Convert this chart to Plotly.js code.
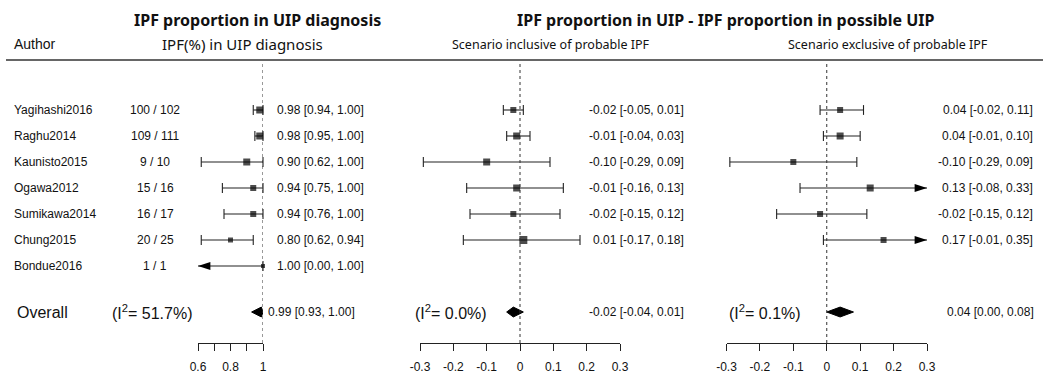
<!DOCTYPE html>
<html>
<head>
<meta charset="utf-8">
<script src="https://cdn.plot.ly/plotly-3.0.1.min.js"></script>
<style>html,body{margin:0;padding:0;background:#fff;}#chart{width:1043px;height:374px;}</style>
</head>
<body>
<div id="chart"></div>
<script>
// ---------------- DATA ----------------
const authors = ['Yagihashi2016','Raghu2014','Kaunisto2015','Ogawa2012','Sumikawa2014','Chung2015','Bondue2016'];
const events  = [100, 109, 9, 15, 16, 20, 1];
const totals  = [102, 111, 10, 16, 17, 25, 1];

// Panel 1: IPF proportion in UIP diagnosis
const p1Est = [0.98, 0.98, 0.90, 0.94, 0.94, 0.80, 1.00];
const p1Lo  = [0.94, 0.95, 0.62, 0.75, 0.76, 0.62, 0.00];
const p1Hi  = [1.00, 1.00, 1.00, 1.00, 1.00, 0.94, 1.00];
const p1Overall = [0.99, 0.93, 1.00];
const p1I2 = '51.7%';

// Panel 2: scenario inclusive of probable IPF
const p2Est = [-0.02, -0.01, -0.10, -0.01, -0.02, 0.01, null];
const p2Lo  = [-0.05, -0.04, -0.29, -0.16, -0.15, -0.17, null];
const p2Hi  = [ 0.01,  0.03,  0.09,  0.13,  0.12,  0.18, null];
const p2Overall = [-0.02, -0.04, 0.01];
const p2I2 = '0.0%';

// Panel 3: scenario exclusive of probable IPF
const p3Est = [ 0.04,  0.04, -0.10,  0.13, -0.02,  0.17, null];
const p3Lo  = [-0.02, -0.01, -0.29, -0.08, -0.15, -0.01, null];
const p3Hi  = [ 0.11,  0.10,  0.09,  0.33,  0.12,  0.35, null];
const p3Overall = [0.04, 0.00, 0.08];
const p3I2 = '0.1%';

const p1Ticks = [0.6, 0.8, 1.0];
const p1TickText = ['0.6', '0.8', '1'];
const diffTicks = [-0.3, -0.2, -0.1, 0, 0.1, 0.2, 0.3];
const diffTickText = ['-0.3', '-0.2', '-0.1', '0', '0.1', '0.2', '0.3'];

// ---------------- STYLE / LAYOUT ----------------
const W = 1043, H = 374;
const px = v => v / W;
const py = v => (H - v) / H;
const INK = '#111';
const LINE = '#222';
const ARIAL = 'Liberation Sans, Arial, sans-serif';
const TITLEF = 'Noto Sans, Open Sans, sans-serif';
const sq1 = [7, 7, 7, 6, 6, 5, 4];
const sq2 = [6, 7, 7, 7, 6, 8];
const sq3 = [6, 7, 6, 7, 6, 6];

const rows = authors.map((a, i) => i + 1);
const overallRow = 8.77;

const f2 = v => v.toFixed(2);
const ci = (e, l, h) => f2(e) + ' [' + f2(l) + ', ' + f2(h) + ']';

const traces = [];
const annotations = [];
const shapes = [];

function panel(xa, est, lo, hi, range, sizes, overall, refX) {
  const wx = [], wy = [], cx = [], cy = [], sx = [], sy = [], ss = [];
  const ax = [], ay = [], aa = [];
  est.forEach((e, i) => {
    if (e === null) return;
    const y = rows[i];
    const l = Math.max(lo[i], range[0]);
    const h = Math.min(hi[i], range[1]);
    wx.push(l, h, null); wy.push(y, y, null);
    if (lo[i] >= range[0]) { cx.push(lo[i]); cy.push(y); }
    else { ax.push(range[0]); ay.push(y); aa.push(-90); }
    if (hi[i] <= range[1]) { cx.push(hi[i]); cy.push(y); }
    else { ax.push(range[1]); ay.push(y); aa.push(90); }
    sx.push(e); sy.push(y); ss.push(sizes[i]);
  });
  traces.push({x: wx, y: wy, xaxis: xa, yaxis: 'y', mode: 'lines', line: {color: LINE, width: 1.1},
    hoverinfo: 'skip', showlegend: false, cliponaxis: false});
  traces.push({x: cx, y: cy, xaxis: xa, yaxis: 'y', mode: 'markers',
    marker: {symbol: 'line-ns-open', size: 7, color: LINE, line: {color: LINE, width: 1.1}},
    hoverinfo: 'skip', showlegend: false, cliponaxis: false});
  if (ax.length) {
    traces.push({x: ax, y: ay, xaxis: xa, yaxis: 'y', mode: 'markers',
      marker: {symbol: 'arrow', size: 13, angle: aa, color: '#000', line: {width: 0}},
      hoverinfo: 'skip', showlegend: false, cliponaxis: false});
  }
  traces.push({x: sx, y: sy, xaxis: xa, yaxis: 'y', mode: 'markers',
    marker: {symbol: 'square', size: ss, color: '#000', line: {width: 0}},
    hoverinfo: 'skip', showlegend: false, cliponaxis: false});
  // summary diamond
  const dh = 0.19;
  traces.push({x: [overall[1], overall[0], overall[2], overall[0], overall[1]],
    y: [overallRow, overallRow - dh, overallRow, overallRow + dh, overallRow],
    xaxis: xa, yaxis: 'y', mode: 'lines', fill: 'toself', fillcolor: '#000',
    line: {color: '#000', width: 1}, hoverinfo: 'skip', showlegend: false, cliponaxis: false});
  // reference line (null effect)
  shapes.push({type: 'line', xref: xa, yref: 'paper', x0: refX, x1: refX,
    y0: py(343), y1: py(60), line: {color: '#333', width: 1, dash: 'dot'}});
}

const r1 = [0.6, 1.0], r2 = [-0.3, 0.3], r3 = [-0.3, 0.3];
panel('x', p1Est, p1Lo, p1Hi, r1, sq1, p1Overall, 1);
panel('x2', p2Est, p2Lo, p2Hi, r2, sq2, p2Overall, 0);
panel('x3', p3Est, p3Lo, p3Hi, r3, sq3, p3Overall, 0);

// header line
shapes.push({type: 'line', xref: 'paper', yref: 'paper', x0: px(6), x1: 1, y0: py(60), y1: py(60),
  line: {color: '#666', width: 2}});

function txt(text, x, y, anchor, size, family) {
  annotations.push({text: text, x: px(x), y: y, xref: 'paper', yref: 'y',
    xanchor: anchor, yanchor: 'middle', showarrow: false, borderpad: 0,
    font: {family: family || ARIAL, size: size || 12, color: INK}});
}
function ptxt(text, x, y, anchor, size, family, weight) {
  annotations.push({text: text, x: px(x), y: py(y), xref: 'paper', yref: 'paper',
    xanchor: anchor, yanchor: 'middle', showarrow: false, borderpad: 0,
    font: {family: family, size: size, color: '#111', weight: weight || 'normal'}});
}

// titles / headers
ptxt('IPF proportion in UIP diagnosis', 257, 20, 'center', 16, TITLEF, 'bold');
ptxt('IPF proportion in UIP - IPF proportion in possible UIP', 725, 20, 'center', 16, TITLEF, 'bold');
ptxt('Author', 13, 44, 'left', 14, ARIAL);
ptxt('IPF(%) in UIP diagnosis', 242, 44, 'center', 15, TITLEF);
ptxt('Scenario inclusive of probable IPF', 551, 44, 'center', 12.5, TITLEF);
ptxt('Scenario exclusive of probable IPF', 888, 44, 'center', 12.5, TITLEF);

// study rows
authors.forEach((a, i) => {
  const y = rows[i];
  txt(a, 13, y, 'left', 12);
  txt(events[i] + ' / ' + totals[i], 155, y, 'center', 12);
  txt(ci(p1Est[i], p1Lo[i], p1Hi[i]), 276, y, 'left', 12);
  if (p2Est[i] !== null) txt(ci(p2Est[i], p2Lo[i], p2Hi[i]), 685, y, 'right', 12);
  if (p3Est[i] !== null) txt(ci(p3Est[i], p3Lo[i], p3Hi[i]), 1034, y, 'right', 12);
});

// overall row
txt('Overall', 16, overallRow, 'left', 16);
txt('(I<sup>2</sup>= ' + p1I2 + ')', 152, overallRow, 'center', 16);
txt('(I<sup>2</sup>= ' + p2I2 + ')', 451, overallRow, 'center', 16);
txt('(I<sup>2</sup>= ' + p3I2 + ')', 765, overallRow, 'center', 16);
txt(ci(p1Overall[0], p1Overall[1], p1Overall[2]), 267, overallRow, 'left', 12);
txt(ci(p2Overall[0], p2Overall[1], p2Overall[2]), 685, overallRow, 'right', 12);
txt(ci(p3Overall[0], p3Overall[1], p3Overall[2]), 1035, overallRow, 'right', 12);

function xax(domain, range, vals, labels, minorStep) {
  const a = {domain: domain, range: range, anchor: 'y', showgrid: false, zeroline: false,
    showline: true, linecolor: LINE, linewidth: 1, ticks: 'outside', ticklen: 7, tickwidth: 1,
    tickcolor: LINE, tickmode: 'array', tickvals: vals, ticktext: labels, ticklabelstandoff: 6,
    tickfont: {family: ARIAL, size: 12, color: INK}, fixedrange: true};
  if (minorStep) a.minor = {dtick: minorStep, tick0: range[0], ticks: 'outside', ticklen: 7,
    tickwidth: 1, tickcolor: LINE, showgrid: false};
  return a;
}

const rowTop = 1 - (110 - 60) / 26;
const rowBot = 7 + (343 - 266) / 26;

const layout = {
  width: W, height: H,
  margin: {l: 0, r: 0, t: 0, b: 0},
  paper_bgcolor: '#fff', plot_bgcolor: 'rgba(0,0,0,0)',
  showlegend: false,
  xaxis: xax([px(198), px(263)], r1, p1Ticks, p1TickText, 0.1),
  xaxis2: xax([px(420), px(620)], r2, diffTicks, diffTickText),
  xaxis3: xax([px(726.5), px(927)], r3, diffTicks, diffTickText),
  yaxis: {domain: [py(343), py(60)], range: [rowBot, rowTop], visible: false, fixedrange: true},
  shapes: shapes,
  annotations: annotations
};

Plotly.newPlot('chart', traces, layout, {displayModeBar: false, staticPlot: true});
</script>
</body>
</html>
